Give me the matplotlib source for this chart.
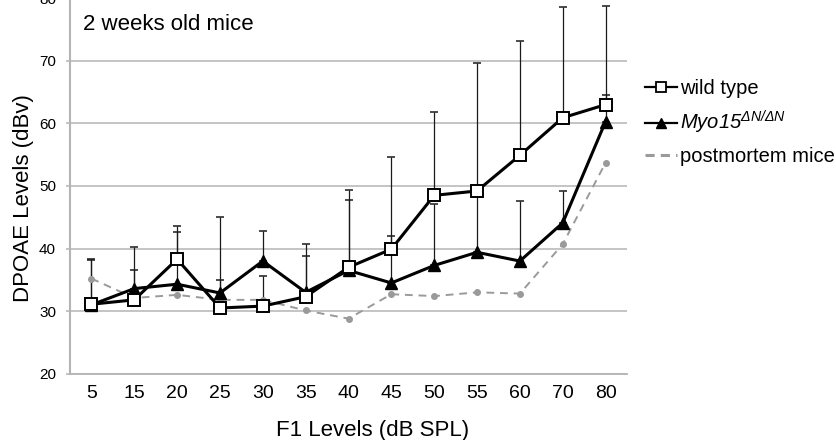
import numpy as np
import matplotlib.pyplot as plt
from matplotlib.lines import Line2D

plt.rcParams['font.family'] = ['Liberation Sans', 'DejaVu Sans']
plt.rcParams['mathtext.fontset'] = 'custom'
plt.rcParams['mathtext.rm'] = 'Liberation Sans:italic'
plt.rcParams['mathtext.it'] = 'Liberation Sans:italic'

# F1 levels (categorical axis)
levels = ['5', '15', '20', '25', '30', '35', '40', '45', '50', '55', '60', '70', '80']

# mean DPOAE levels (dBv)
wild_type = [31.1, 31.8, 38.3, 30.5, 30.8, 32.3, 37.0, 39.9, 48.5, 49.2, 54.9, 60.9, 63.0]
myo15 = [31.0, 33.6, 34.3, 32.9, 38.0, 33.0, 36.5, 34.5, 37.3, 39.4, 38.0, 44.1, 60.3]
postmortem = [35.2, 32.1, 32.6, 31.8, 31.8, 30.1, 28.8, 32.7, 32.4, 33.0, 32.8, 40.7, 53.7]

# top of the (upper only) error bars
wild_type_top = [38.3, 36.5, 43.6, 45.0, 35.6, 38.8, 49.3, 54.6, 61.9, 69.7, 73.2, 78.6, 78.8]
myo15_top = [38.2, 40.2, 42.6, 34.9, 42.8, 40.7, 47.7, 42.0, 47.1, 49.0, 47.6, 49.2, 64.6]

x = np.arange(len(levels))
wt = np.array(wild_type)
my = np.array(myo15)
wt_err = np.array(wild_type_top) - wt
my_err = np.array(myo15_top) - my

fig = plt.figure(figsize=(8.37, 4.4), dpi=100)
ax = fig.add_axes([70 / 837, 0.1507, 557 / 837, 1.004 - 0.1507])

# error bars behind the lines
for mean, err in [(wt, wt_err), (my, my_err)]:
    ax.errorbar(x, mean, yerr=[np.zeros_like(err), err], fmt='none',
                ecolor='#1a1a1a', elinewidth=0.9, capsize=3.2, capthick=1.1, zorder=2)

pm_style = dict(color='#9a9a9a', linestyle=(0, (4, 3)), linewidth=1.4)
ax.plot(x, postmortem, marker='o', markersize=4, markerfacecolor='#9a9a9a',
        markeredgecolor='#9a9a9a', zorder=3, **pm_style)
l_my, = ax.plot(x, my, color='black', linewidth=2.2, marker='^', markersize=8,
                markerfacecolor='black', markeredgecolor='black', zorder=4)
l_wt, = ax.plot(x, wt, color='black', linewidth=2.2, marker='s', markersize=8,
                markerfacecolor='white', markeredgecolor='black', markeredgewidth=1.4,
                zorder=5)

ax.set_xlim(-0.5, len(levels) - 0.5)
ax.set_ylim(20, 80)
ax.set_yticks([20, 30, 40, 50, 60, 70, 80])
ax.set_xticks(x)
ax.set_xticklabels(levels)

ax.grid(axis='y', color='#b4b4b4', linewidth=1.1)
ax.set_axisbelow(True)
for side in ['top', 'right']:
    ax.spines[side].set_visible(False)
ax.spines['left'].set_color('#b4b4b4')
ax.spines['left'].set_linewidth(1.5)
ax.spines['bottom'].set_color('#b4b4b4')
ax.spines['bottom'].set_linewidth(1.3)

ax.tick_params(axis='x', length=0, pad=8, labelsize=14)
ax.tick_params(axis='y', length=3, width=1.1, color='#b4b4b4', pad=7, labelsize=11)

ax.set_xlabel('F1 Levels (dB SPL)', fontsize=16)
ax.xaxis.set_label_coords(0.544, -0.123)
ax.set_ylabel('DPOAE Levels (dBv)', fontsize=16)
ax.yaxis.set_label_coords(-0.064, 0.468)

fig.text(83 / 837, 1 - 25 / 440, '2 weeks old mice', fontsize=16, va='center', ha='left')

# legend: the postmortem entry shows only the dashed line
h_wt = Line2D([], [], color='black', linewidth=1.6, marker='s', markersize=7,
              markerfacecolor='white', markeredgecolor='black', markeredgewidth=1.3)
h_my = Line2D([], [], color='black', linewidth=1.6, marker='^', markersize=7,
              markerfacecolor='black', markeredgecolor='black')
h_pm = Line2D([], [], color='#9a9a9a', linestyle=(0, (3, 2)), linewidth=2.2)
ax.legend([h_wt, h_my, h_pm],
          ['wild type', r'$Myo15^{ΔN/ΔN}$', 'postmortem mice'],
          loc='center left', bbox_to_anchor=(1.032, 0.669), frameon=False,
          fontsize=14.5, handlelength=1.6, handletextpad=0.15, labelspacing=0.55,
          borderaxespad=0, borderpad=0)

fig.savefig('out.png', dpi=100)
